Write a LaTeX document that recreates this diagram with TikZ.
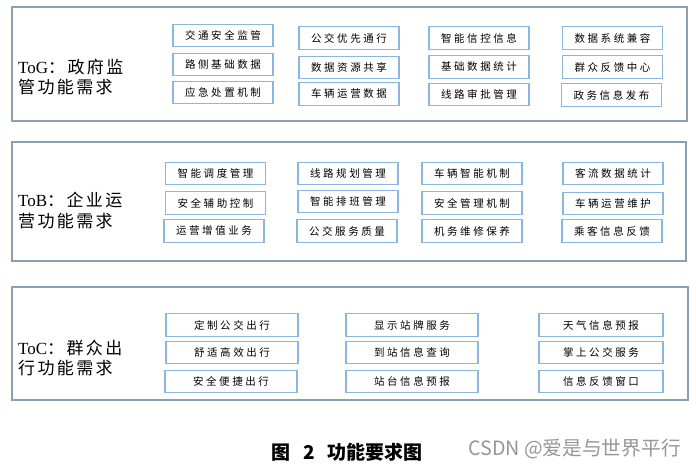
\documentclass[tikz,border=0pt]{standalone}
\usepackage{fontspec}
\setmainfont{Liberation Serif}
\newfontfamily\cjkbox[LetterSpace=24]{Noto Sans CJK SC}
\newfontfamily\cjklab[LetterSpace=14]{Noto Sans CJK SC}
\newfontfamily\cjkplain{Noto Sans CJK SC}
\definecolor{outerc}{RGB}{138,158,180}
\definecolor{innerc}{RGB}{140,182,226}
\definecolor{wmc}{RGB}{150,150,150}
\begin{document}
\begin{tikzpicture}[x=1pt,y=-1pt,
 outerbox/.style={draw=outerc, line width=1.3pt, inner sep=0pt},
 ibox/.style={draw=innerc, line width=1.3pt, inner sep=0pt, minimum height=22.5pt, minimum width=#1, font=\cjkbox\fontsize{10.5}{12}\selectfont},
 ibox/.default=100pt,
 lab/.style={anchor=west, inner sep=0pt, font=\fontsize{17}{20}\selectfont},
]
\useasboundingbox (0,0) rectangle (696,469);
% outer boxes
\node[outerbox, minimum width=675pt, minimum height=114pt] (G) at (349.5,64) {};
\node[outerbox, minimum width=674pt, minimum height=119pt] (B) at (349,201.5) {};
\node[outerbox, minimum width=676pt, minimum height=113pt] (C) at (350,343.5) {};
% labels
\node[lab] (Gl1) at (18,67) {ToG{\cjklab ：政府监}};
\node[lab] (Gl2) at (18,87) {{\cjklab 管功能需求}};
\node[lab] (Bl1) at (18,200) {ToB{\cjklab ：企业运}};
\node[lab] (Bl2) at (18,221) {{\cjklab 营功能需求}};
\node[lab] (Cl1) at (18,348) {ToC{\cjklab ：群众出}};
\node[lab] (Cl2) at (18,368) {{\cjklab 行功能需求}};
% ToG boxes
\node[ibox] (g1) at (223,35.5) {交通安全监管};
\node[ibox] (g2) at (223,64.5) {路侧基础数据};
\node[ibox] (g3) at (223,92.5) {应急处置机制};
\node[ibox] (g4) at (349,38) {公交优先通行};
\node[ibox] (g5) at (349,67.5) {数据资源共享};
\node[ibox] (g6) at (349,94) {车辆运营数据};
\node[ibox] (g7) at (479,38) {智能信控信息};
\node[ibox] (g8) at (479,67) {基础数据统计};
\node[ibox] (g9) at (479,94.5) {线路审批管理};
\node[ibox] (g10) at (612.5,38) {数据系统兼容};
\node[ibox] (g11) at (612.5,67) {群众反馈中心};
\node[ibox] (g12) at (611.5,95) {政务信息发布};
% ToB boxes
\node[ibox] (b1) at (215.5,173.5) {智能调度管理};
\node[ibox] (b2) at (215.5,203) {安全辅助控制};
\node[ibox] (b3) at (214,231) {运营增值业务};
\node[ibox] (b4) at (348,173.5) {线路规划管理};
\node[ibox] (b5) at (348,201.5) {智能排班管理};
\node[ibox] (b6) at (347,231) {公交服务质量};
\node[ibox] (b7) at (472,173.5) {车辆智能机制};
\node[ibox] (b8) at (472,203) {安全管理机制};
\node[ibox] (b9) at (472,231) {机务维修保养};
\node[ibox] (b10) at (613,173.5) {客流数据统计};
\node[ibox] (b11) at (613,203.5) {车辆运营维护};
\node[ibox] (b12) at (612,231) {乘客信息反馈};
% ToC boxes
\node[ibox=132pt] (c1) at (232,325) {定制公交出行};
\node[ibox=132pt] (c2) at (232,352.5) {舒适高效出行};
\node[ibox=132pt] (c3) at (231,381.5) {安全便捷出行};
\node[ibox=132pt] (c4) at (412,325) {显示站牌服务};
\node[ibox=132pt] (c5) at (412,352.5) {到站信息查询};
\node[ibox=132pt] (c6) at (412,381.5) {站台信息预报};
\node[ibox=124pt] (c7) at (601,325) {天气信息预报};
\node[ibox=124pt] (c8) at (601,352.5) {掌上公交服务};
\node[ibox=124pt] (c9) at (601,381.5) {信息反馈窗口};
% caption
\node[anchor=west, inner sep=0pt, font=\cjkplain\bfseries\fontsize{19}{22}\selectfont] (cap) at (271,452.5) {图\hspace{13pt}2\hspace{13pt}功能要求图};
\node[anchor=west, inner sep=0pt, text=wmc, font=\cjkplain\fontsize{19.7}{22}\selectfont] (wm) at (468,449) {CSDN @爱是与世界平行};
\end{tikzpicture}
\end{document}
